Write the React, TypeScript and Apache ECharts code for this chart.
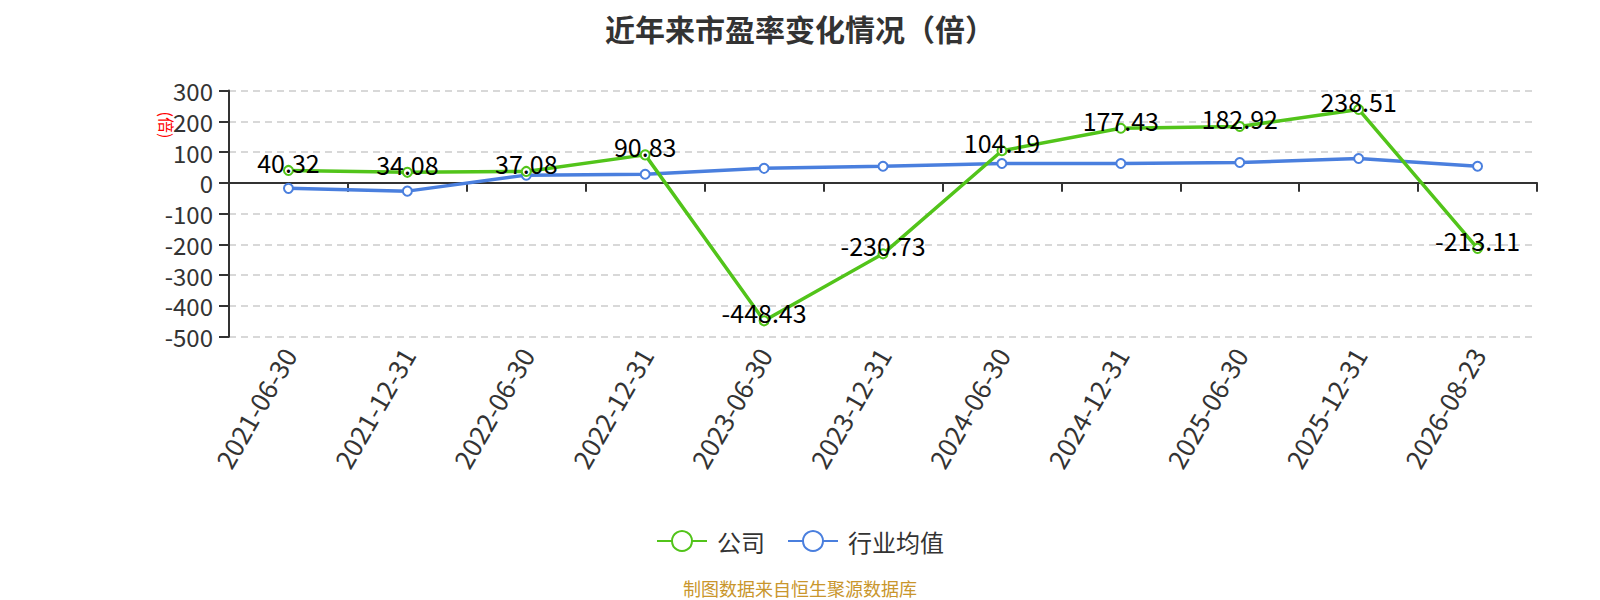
import React, { useEffect, useRef } from "react";
import * as echarts from "echarts";

const categories = [
  "2021-06-30", "2021-12-31", "2022-06-30", "2022-12-31", "2023-06-30", "2023-12-31",
  "2024-06-30", "2024-12-31", "2025-06-30", "2025-12-31", "2026-08-23",
];
const companyValues = [40.32, 34.08, 37.08, 90.83, -448.43, -230.73, 104.19, 177.43, 182.92, 238.51, -213.11];
const industryValues = [-18, -27, 25, 28, 47, 54, 63, 63, 66, 79, 54];
const yTicks = { min: -500, max: 300, interval: 100 };

export default function App() {
  const ref = useRef<HTMLDivElement>(null);
  useEffect(() => {
    if (!ref.current) return;
    const chart = echarts.init(ref.current, undefined, { renderer: "svg" });
    const font = "'Noto Sans CJK SC', 'Noto Sans', sans-serif";
    chart.setOption({
      animation: false,
      backgroundColor: "#ffffff",
      title: {
        text: "近年来市盈率变化情况（倍）",
        left: "center",
        top: 8,
        textStyle: { fontSize: 30, fontWeight: "bold", color: "#333333", fontFamily: font },
      },
      legend: {
        top: 524,
        left: "center",
        itemWidth: 50,
        itemHeight: 25,
        itemGap: 22,
        textStyle: { fontSize: 24, color: "#333333", fontFamily: font, padding: [0, 0, 0, 5] },
        data: ["公司", "行业均值"],
      },
      grid: { left: 229, right: 63, top: 90.5, bottom: 263.3, containLabel: false },
      xAxis: {
        type: "category",
        data: categories,
        boundaryGap: true,
        axisLine: { onZero: true, lineStyle: { color: "#333333", width: 2 } },
        axisTick: { show: true, length: 9, lineStyle: { color: "#333333", width: 2 } },
        axisLabel: { rotate: 60, fontSize: 26, color: "#333333", margin: 13, fontFamily: font, interval: 0 },
        position: "bottom",
      },
      yAxis: {
        type: "value",
        min: yTicks.min,
        max: yTicks.max,
        interval: yTicks.interval,
        axisLine: { show: true, lineStyle: { color: "#333333", width: 2 } },
        axisTick: { show: true, length: 10, lineStyle: { color: "#333333", width: 2 } },
        axisLabel: { fontSize: 24, color: "#333333", margin: 16, fontFamily: font },
        splitLine: { show: true, lineStyle: { color: "#cccccc", type: [7, 5], width: 1.5 } },
      },
      graphic: [
        {
          type: "text",
          x: 167,
          y: 125,
          rotation: -Math.PI / 2,
          style: {
            text: "(倍)",
            fill: "#ff0000",
            fontSize: 16,
            fontFamily: font,
            align: "center",
            verticalAlign: "middle",
          },
        },
        {
          type: "text",
          x: 800,
          y: 588,
          style: {
            text: "制图数据来自恒生聚源数据库",
            fill: "#c9962c",
            fontSize: 18,
            fontFamily: font,
            align: "center",
            verticalAlign: "middle",
          },
        },
      ],
      series: [
        {
          name: "公司",
          type: "line",
          data: companyValues,
          symbol: "emptyCircle",
          symbolSize: 9,
          color: "#52c41a",
          lineStyle: { width: 3.5, color: "#52c41a" },
          itemStyle: { color: "#52c41a", borderWidth: 2 },
          label: {
            show: true,
            position: "top",
            distance: 0,
            offset: [0, 9.5],
            fontSize: 25,
            color: "#000000",
            fontFamily: font,
          },
          z: 3,
        },
        {
          name: "行业均值",
          type: "line",
          data: industryValues,
          symbol: "emptyCircle",
          symbolSize: 9,
          color: "#4a7fde",
          lineStyle: { width: 3.5, color: "#4a7fde" },
          itemStyle: { color: "#4a7fde", borderWidth: 2 },
          z: 2,
        },
      ],
    });
    return () => chart.dispose();
  }, []);
  return (
    <div
      ref={ref}
      style={{ position: "fixed", left: 0, top: 0, width: 1600, height: 600 }}
    />
  );
}
